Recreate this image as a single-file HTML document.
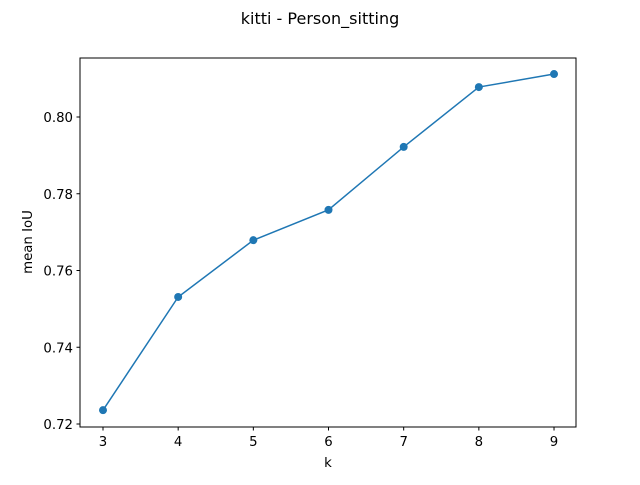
<!DOCTYPE html>
<html><head><meta charset="utf-8"><style>
body{margin:0;background:#fff;}
svg text{font-family:"DejaVu Sans","Liberation Sans",sans-serif;fill:#000;}
</style></head><body>
<svg id="chart" width="640" height="480">
<text x="320" y="24" font-size="16" text-anchor="middle">kitti - Person_sitting</text>
<rect x="80" y="58" width="496" height="369" fill="none" stroke="#000" stroke-width="1"/>
<g id="xticks"></g><g id="yticks"></g><g id="series"></g>
<text x="328" y="467" font-size="13.3" text-anchor="middle">k</text>
<text x="0" y="0" font-size="13.3" text-anchor="middle" transform="translate(32,242) rotate(-90)">mean IoU</text>
</svg>
<script>
const categories=[3,4,5,6,7,8,9];
const values=[0.7236,0.7531,0.7679,0.7758,0.7922,0.8078,0.8112];
const xTicks=[3,4,5,6,7,8,9];
const yTicks=[0.72,0.74,0.76,0.78,0.80];
const NS="http://www.w3.org/2000/svg";
function xs(k){return 103+(k-3)*75.17;}
function ys(v){return 424-(v-0.72)*3837.5;}
function mk(t,a,p){const e=document.createElementNS(NS,t);for(const k in a)e.setAttribute(k,a[k]);p.appendChild(e);return e;}
const xg=document.getElementById('xticks'),yg=document.getElementById('yticks'),sg=document.getElementById('series');
xTicks.forEach(t=>{const x=xs(t);
const l=mk('line',{x1:x,x2:x,y1:427,y2:430.5,stroke:'#000'},xg);


const tx=mk('text',{x:x,y:446,'font-size':13.3,'text-anchor':'middle'},xg);tx.textContent=t;

});
yTicks.forEach(t=>{const y=ys(t);
const l=mk('line',{x1:76.5,x2:80,y1:y,y2:y,stroke:'#000'},yg);


const tx=mk('text',{x:73,y:y+5,'font-size':13.3,'text-anchor':'end'},yg);tx.textContent=t.toFixed(2);

});
const pts=categories.map((c,i)=>xs(c)+','+ys(values[i])).join(' ');
const pl=mk('polyline',{points:pts,fill:'none',stroke:'#1f77b4','stroke-width':1.5},sg);


categories.forEach((c,i)=>{const m=mk('circle',{cx:xs(c),cy:ys(values[i]),r:4,fill:'#1f77b4'},sg);

});
</script>
</body></html>
